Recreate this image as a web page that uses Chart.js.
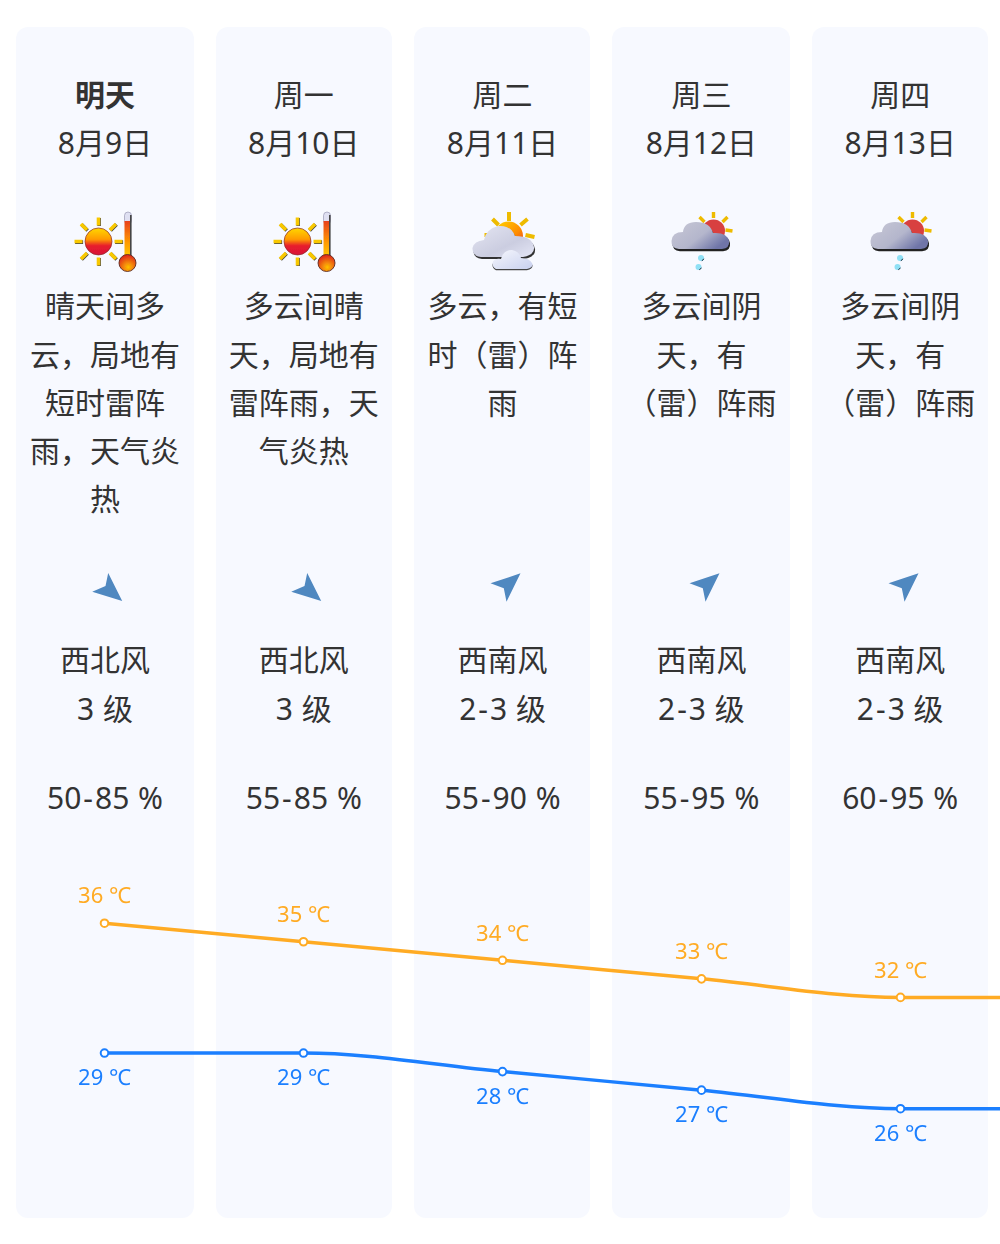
<!DOCTYPE html>
<html lang="zh-CN">
<head>
<meta charset="utf-8">
<script src="https://cdn.jsdelivr.net/npm/chart.js@4"></script>
<style>
html,body{margin:0;padding:0;background:#fff;width:1000px;height:1244px;overflow:hidden}
body{position:relative;font-family:"Noto Sans","Noto Sans CJK SC",sans-serif;color:#333}
.card{position:absolute;top:27px;height:1191px;background:#f7f9ff;border-radius:12px}
.t{position:absolute;width:190px;text-align:center;font-size:30px;line-height:48px;height:48px;white-space:nowrap;word-spacing:1px}
.t span{margin:0 2px}
svg.i{position:absolute;width:80px;height:80px;overflow:visible}
#wrap{position:absolute;left:5px;top:849px;width:1194px;height:371px}
canvas{display:block}
</style>
</head>
<body>
<svg width="0" height="0" style="position:absolute">
<defs>
<linearGradient id="gSun" x1="0" y1="0" x2="0" y2="1"><stop offset="0" stop-color="#ffd800"/><stop offset=".42" stop-color="#ff9a00"/><stop offset=".65" stop-color="#e8202c"/><stop offset="1" stop-color="#d81038"/></linearGradient>
<linearGradient id="gSun2" x1="0" y1="0" x2="1" y2="1"><stop offset="0" stop-color="#ffd800"/><stop offset=".6" stop-color="#ff8a00"/><stop offset="1" stop-color="#e0302c"/></linearGradient>
<linearGradient id="gTube" x1="0" y1="0" x2="0" y2="1"><stop offset="0" stop-color="#e8401c"/><stop offset=".6" stop-color="#ff9a00"/><stop offset="1" stop-color="#ffcc00"/></linearGradient>
<radialGradient id="gBulb" cx="55%" cy="75%" r="70%"><stop offset="0" stop-color="#ffc000"/><stop offset="1" stop-color="#e02a1a"/></radialGradient>
<linearGradient id="gCloud" x1="0" y1="0" x2="1" y2="1"><stop offset="0" stop-color="#e4e5f2"/><stop offset=".6" stop-color="#cbcde0"/><stop offset="1" stop-color="#e4e6f6"/></linearGradient>
<linearGradient id="gDark" x1="0" y1="0" x2="1" y2=".6"><stop offset="0" stop-color="#c8c8d6"/><stop offset=".6" stop-color="#b4b6cc"/><stop offset="1" stop-color="#6f75a8"/></linearGradient>
<linearGradient id="gSmall" x1="0" y1="0" x2="1" y2="1"><stop offset="0" stop-color="#f6f7fd"/><stop offset="1" stop-color="#c8d0ee"/></linearGradient>
<filter id="soft"><feGaussianBlur stdDeviation=".4"/></filter>
<g id="rays13" stroke-width="3.600">
<path stroke="#444" transform="translate(.6 .6)" d="M0-16V-24M0 16V24M-16 0H-24M16 0H24M-11.500-11.500L-17.500-17.500M11.500-11.500L17.500-17.500M-11.500 11.500L-17.500 17.500M11.500 11.500L17.500 17.500"/>
<path stroke="#f8c800" d="M0-16V-24M0 16V24M-16 0H-24M16 0H24M-11.500-11.500L-17.500-17.500M11.500-11.500L17.500-17.500M-11.500 11.500L-17.500 17.500M11.500 11.500L17.500 17.500"/>
</g>
<g id="sunThermo" filter="url(#soft)">
<g transform="translate(-6.500 1.500)"><use href="#rays13"/><circle r="13.500" fill="url(#gSun)" stroke="#8a2a2a" stroke-width=".7"/></g>
<rect x="19.500" y="-28" width="7" height="12" rx="3.500" fill="#dfe0f2" stroke="#8b8ba8" stroke-width=".6"/>
<rect x="19.500" y="-19" width="5.500" height="36" fill="url(#gTube)"/>
<rect x="25" y="-25" width="1.600" height="42" fill="#444"/>
<circle cx="22.500" cy="23" r="8.500" fill="url(#gBulb)" stroke="#5a2a20" stroke-width=".9"/>
</g>
<g id="partly" filter="url(#soft)">
<g stroke="#eebb00" stroke-width="4"><path d="M6-28V-19M-10.500-21L-4.500-15M24.500-21L17.500-15M22.500-5L31.500-3M-18.500-5L-14.500-5"/></g>
<circle cx="5.500" cy="-4" r="14.500" fill="url(#gSun2)"/>
<path d="M-22 17Q-31 16-30.500 8Q-29 1-19 0Q-17-11-5-14Q8-15 12-4Q29-4 31 7Q32 15 20 17Z" fill="#333" transform="translate(1 2)"/>
<path d="M-22 17Q-31 16-30.500 8Q-29 1-19 0Q-17-11-5-14Q8-15 12-4Q29-4 31 7Q32 15 20 17Z" fill="url(#gCloud)"/>
<path d="M-7 29Q-11 27-10.500 23Q-9 18-2 19Q0 10 9 10Q16 11 18 18Q27 18 29.500 24Q30 28 24 29Z" fill="#444" transform="translate(0 1.200)"/>
<path d="M-7 29Q-11 27-10.500 23Q-9 18-2 19Q0 10 9 10Q16 11 18 18Q27 18 29.500 24Q30 28 24 29Z" fill="url(#gSmall)"/>
</g>
<g id="rain" filter="url(#soft)">
<g stroke="#eebb00" stroke-width="3.400"><path d="M11.500-28V-22M-2.500-23L2.500-18M25.500-23L20.500-18M23.500-10L30.500-9"/></g>
<circle cx="11.500" cy="-9" r="11.500" fill="#d8413f"/>
<path d="M-23 9Q-31 8-30.500 1Q-30-8-19-8Q-18-18-6-18Q8-18 11-7Q25-8 27 1Q28 8 20 9Z" fill="#222" transform="translate(1 2.200)"/>
<path d="M-23 9Q-31 8-30.500 1Q-30-8-19-8Q-18-18-6-18Q8-18 11-7Q25-8 27 1Q28 8 20 9Z" fill="url(#gDark)"/>
<circle cx="-1" cy="18" r="3" fill="#8fe0f5"/><circle cx="-3.500" cy="27" r="3" fill="#8fe0f5"/>
<path d="M-.2 20.700a3 3 0 0 0 2-2M-2.700 29.700a3 3 0 0 0 2-2" stroke="#234" stroke-width="1" fill="none"/>
</g>
<polygon id="arrowNW" points="3.200,-15 17.200,13 -12.800,3.700 .5,-2" fill="#5088c0" filter="url(#soft)"/>
<polygon id="arrowSW" points="17.500,-14.700 -12.500,-4.700 .8,.3 3.500,13.700" fill="#5088c0" filter="url(#soft)"/>
</defs>
</svg>
<div id="wrap"><canvas id="c" width="1194" height="371"></canvas></div>
<script>
const categories = ["明天", "周一", "周二", "周三", "周四", "周五"];
const dates = ["8月9日", "8月10日", "8月11日", "8月12日", "8月13日"];
const weatherIcons = ["sunThermo", "sunThermo", "partly", "rain", "rain"];
const weatherText = [
  ["晴天间多", "云，局地有", "短时雷阵", "雨，天气炎", "热"],
  ["多云间晴", "天，局地有", "雷阵雨，天", "气炎热"],
  ["多云，有短", "时（雷）阵", "雨"],
  ["多云间阴", "天，有", "（雷）阵雨"],
  ["多云间阴", "天，有", "（雷）阵雨"]
];
const windIcons = ["arrowNW", "arrowNW", "arrowSW", "arrowSW", "arrowSW"];
const windDir = ["西北风", "西北风", "西南风", "西南风", "西南风"];
const windLevel = ["3 级", "3 级", "2-3 级", "2-3 级", "2-3 级"];
const humidity = ["50-85 %", "55-85 %", "55-90 %", "55-95 %", "60-95 %"];
const highs = [36, 35, 34, 33, 32, 32];
const lows = [29, 29, 28, 27, 26, 26];

const cardBox = [[16,178],[216,176],[414,176],[612,178],[812,176]];
const HIGH = "#ffab24", LOW = "#1b7fff";

function addText(str, cx, cy, bold){
  const d = document.createElement("div");
  d.className = "t";
  str.split("-").forEach((part, k) => {
    if (k > 0) {
      const s = document.createElement("span");
      s.textContent = "-";
      d.appendChild(s);
    }
    d.appendChild(document.createTextNode(part));
  });
  d.style.left = (cx - 95) + "px";
  d.style.top = Math.round(cy - 24) + "px";
  if (bold) d.style.fontWeight = "700";
  document.body.appendChild(d);
}
function addIcon(id, cx, cy){
  const ns = "http://www.w3.org/2000/svg";
  const s = document.createElementNS(ns, "svg");
  s.setAttribute("class", "i");
  s.setAttribute("viewBox", "-40 -40 80 80");
  s.style.left = (cx - 40) + "px";
  s.style.top = (cy - 40) + "px";
  const u = document.createElementNS(ns, "use");
  u.setAttribute("href", "#" + id);
  s.appendChild(u);
  document.body.appendChild(s);
}
cardBox.forEach(([l, w], i) => {
  const d = document.createElement("div");
  d.className = "card";
  d.style.left = l + "px";
  d.style.width = w + "px";
  document.body.insertBefore(d, document.getElementById("wrap"));
  const cx = 105 + i * 198.8;
  addText(categories[i], cx, 95, i === 0);
  addText(dates[i], cx, 143);
  addIcon(weatherIcons[i], 104.5 + i * 199, 240);
  weatherText[i].forEach((line, k) => addText(line, cx, 306.3 + k * 48.25));
  addIcon(windIcons[i], 104.5 + i * 199, 588);
  addText(windDir[i], cx, 660);
  addText(windLevel[i], cx, 709);
  addText(humidity[i], cx, 798);
});

const tempLabels = {
  id: "tempLabels",
  afterDatasetsDraw(chart){
    const g = chart.ctx;
    g.save();
    g.font = '22px "Noto Sans","Noto Sans CJK SC",sans-serif';
    g.textAlign = "center";
    g.textBaseline = "middle";
    chart.data.datasets.forEach((ds, di) => {
      chart.getDatasetMeta(di).data.forEach((p, i) => {
        g.fillStyle = ds.borderColor;
        g.fillText(ds.data[i] + " ℃", p.x, p.y + (di === 0 ? -26 : 26));
      });
    });
    g.restore();
  }
};

new Chart(document.getElementById("c"), {
  type: "line",
  data: {
    labels: categories,
    datasets: [
      {label: "最高气温", data: highs, borderColor: HIGH},
      {label: "最低气温", data: lows, borderColor: LOW}
    ]
  },
  plugins: [tempLabels],
  options: {
    responsive: false,
    animation: false,
    layout: {padding: 0, autoPadding: false},
    plugins: {legend: {display: false}, tooltip: {enabled: false}},
    elements: {
      line: {borderWidth: 3.5, cubicInterpolationMode: "monotone"},
      point: {radius: 3.8, borderWidth: 2, backgroundColor: "#ffffff"}
    },
    scales: {
      x: {display: false, offset: true},
      y: {display: false, min: 20, max: 40}
    }
  }
});
</script>
</body>
</html>
